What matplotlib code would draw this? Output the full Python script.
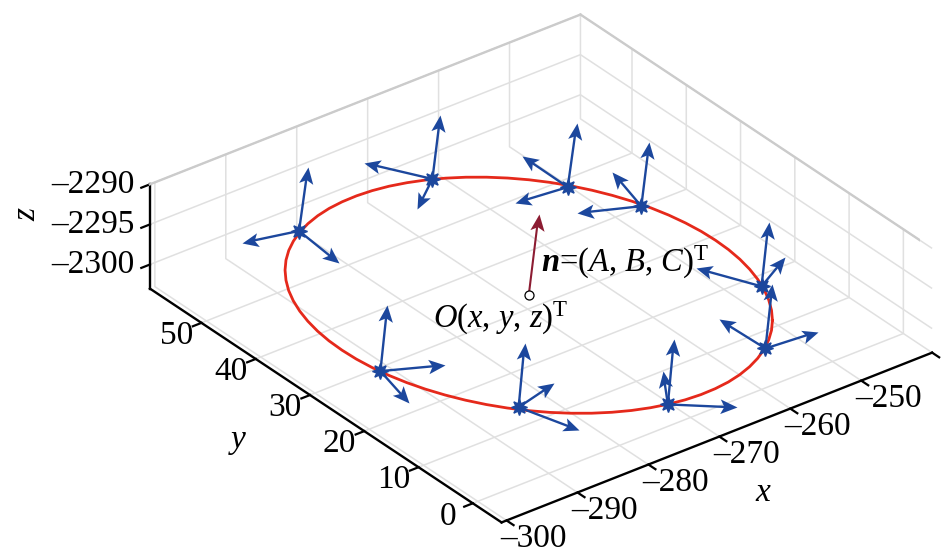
import matplotlib
matplotlib.use('Agg')
import matplotlib.pyplot as plt
from matplotlib.path import Path
from matplotlib.transforms import Affine2D
from mpl_toolkits.mplot3d import proj3d
import numpy as np

plt.rcParams['font.family'] = ['Liberation Serif', 'DejaVu Serif']
plt.rcParams['mathtext.fontset'] = 'custom'
plt.rcParams['mathtext.rm'] = 'Liberation Serif'
plt.rcParams['mathtext.it'] = 'Liberation Serif:italic'
plt.rcParams['mathtext.bf'] = 'Liberation Serif:italic:bold'

# axis ticks
x_ticks = [-300, -290, -280, -270, -260, -250, -240]
x_labels = ['–300', '–290', '–280', '–270', '–260', '–250', '']
y_ticks = [0, 10, 20, 30, 40, 50]
y_labels = ['0', '10', '20', '30', '40', '50']
z_ticks = [-2300, -2295, -2290]
z_labels = ['–2300', '–2295', '–2290']

# ring
ring_x = [-251.97, -250.70, -249.58, -248.61, -247.81, -247.18, -246.72, -246.44, -246.35, -246.43,
          -246.70, -247.14, -247.76, -248.55, -249.51, -250.62, -251.88, -253.28, -254.81, -256.46,
          -258.21, -260.05, -261.97, -263.95, -265.98, -268.04, -270.12, -272.20, -274.26, -276.30,
          -278.28, -280.21, -282.05, -283.81, -285.47, -287.00, -288.41, -289.68, -290.81, -291.77,
          -292.57, -293.20, -293.66, -293.94, -294.03, -293.95, -293.68, -293.24, -292.62, -291.83,
          -290.87, -289.76, -288.50, -287.10, -285.57, -283.92, -282.17, -280.33, -278.41, -276.43,
          -274.40, -272.34, -270.26, -268.18, -266.12, -264.08, -262.10, -260.17, -258.33, -256.57,
          -254.92, -253.38, -251.97]
ring_y = [8.48, 10.31, 12.29, 14.39, 16.62, 18.94, 21.34, 23.80, 26.31, 28.85,
          31.39, 33.91, 36.40, 38.84, 41.21, 43.49, 45.67, 47.72, 49.64, 51.40,
          52.99, 54.41, 55.64, 56.67, 57.49, 58.11, 58.50, 58.67, 58.62, 58.36,
          57.87, 57.16, 56.25, 55.13, 53.82, 52.33, 50.66, 48.83, 46.86, 44.75,
          42.52, 40.20, 37.80, 35.34, 32.83, 30.29, 27.76, 25.23, 22.74, 20.30,
          17.93, 15.65, 13.47, 11.42, 9.50, 7.74, 6.15, 4.73, 3.50, 2.47,
          1.65, 1.04, 0.64, 0.47, 0.52, 0.78, 1.27, 1.98, 2.89, 4.01,
          5.32, 6.81, 8.48]
ring_z = -2301

# measuring points on the ring
star_x = [-281.96, -263.24, -252.35, -248.38, -248.41, -256.33, -272.41, -286.00, -293.42]
star_y = [56.51, 56.40, 45.70, 37.33, 15.14, 4.07, 1.03, 10.77, 26.54]

# three arrow tips for each point
tip_x = [[-281.17, -288.57, -282.71], [-262.54, -267.17, -268.56], [-251.56, -252.26, -259.14],
         [-247.68, -246.40, -255.03], [-247.79, -242.43, -251.81], [-255.71, -256.60, -249.40],
         [-271.88, -268.45, -266.66], [-285.47, -279.63, -283.70], [-292.80, -286.90, -295.14]]
tip_y = [[55.89, 58.32, 48.21], [55.85, 63.90, 52.21], [45.08, 54.24, 46.54],
         [36.78, 45.23, 40.56], [14.66, 18.55, 22.79], [3.59, 12.33, 3.40],
         [0.62, 7.12, -4.28], [10.36, 12.49, 2.60], [26.06, 23.14, 18.99]]
tip_z = [[-2293, -2301, -2301], [-2293, -2301, -2301], [-2293, -2301, -2301],
         [-2293, -2301, -2301], [-2293, -2301, -2301], [-2293, -2301, -2301],
         [-2292.9, -2301, -2301], [-2293, -2301, -2301], [-2292.75, -2301, -2301]]

# centre and normal
center = [-270.19, 29.57, -2301]
normal_tip = [-269.31, 28.89, -2290.9]

blue = '#1C479D'
red = '#E5291B'
dark_red = '#8C1C32'
grid_col = '#E0E0E0'
font_size = 24

W = 778
fig = plt.figure(figsize=(9.47, 5.59), dpi=100)
ax = fig.add_axes([141.5 / 947, -109 / 559, W / 947, W / 559], projection='3d', proj_type='ortho')
ax.patch.set_alpha(0)
ax.set_xlim(-300.7, -240, view_margin=0)
ax.set_ylim(-5.3, 59.5, view_margin=0)
ax.set_zlim(-2303, -2290, view_margin=0)
ax.set_box_aspect((544, 577, 121.5))
ax.view_init(elev=30.8, azim=-127.6)

# ticks stay on the real axes, their labels are placed by hand below
ax.set_xticks(x_ticks, labels=[])
ax.set_yticks(y_ticks, labels=[])
ax.set_zticks(z_ticks, labels=[])

for axis in [ax.xaxis, ax.yaxis, ax.zaxis]:
    axis.set_pane_color((1, 1, 1, 0))
    axis.pane.set_edgecolor((1, 1, 1, 0))
    axis.line.set_color('black')
    axis.line.set_linewidth(1.7)
    axis._axinfo['grid'].update(color=grid_col, linewidth=1.1)
    axis._axinfo['tick'].update(inward_factor=0.25, outward_factor=0, linewidth={True: 1.6, False: 1})


def tick_text(x, y, z, s, ha):
    # project to the 2d plane of the axes, so the label keeps a true position
    px, py, _ = proj3d.proj_transform(x, y, z, ax.get_proj())
    ax.text2D(px, py, s, transform=ax.transData, fontsize=font_size, ha=ha, va='center')


for t, s in zip(x_ticks, x_labels):
    if s:
        tick_text(t, -10.3, -2303, s, 'center')
for t, s in zip(y_ticks, y_labels):
    tick_text(-304.2, t, -2303.4, s, 'center')
for t, s in zip(z_ticks, z_labels):
    tick_text(-302.8, 59.5, t + 0.7, s, 'right')

# darker top edge of the back walls
ax.plot([-300.7, -240], [59.5, 59.5], [-2290, -2290], color='#CBCBCB', lw=1.7)
ax.plot([-240, -240], [-5.3, 59.5], [-2290, -2290], color='#CBCBCB', lw=1.7)

ax.plot(ring_x, ring_y, ring_z, color=red, lw=2.0, solid_capstyle='round', zorder=3)


def draw_arrow(start, tip, color, lw=1.7, ms=25):
    # shaft stops inside the head so the point stays sharp
    proj = ax.get_proj()
    x0, y0, _ = proj3d.proj_transform(start[0], start[1], start[2], proj)
    x1, y1, _ = proj3d.proj_transform(tip[0], tip[1], tip[2], proj)
    angle = np.arctan2(y1 - y0, x1 - x0)
    head = Path([(0, 0), (-1, 0.43), (-0.77, 0), (-1, -0.43), (0, 0)], closed=True)
    head = head.transformed(Affine2D().rotate(angle))
    sx = start[0] + 0.85 * (tip[0] - start[0])
    sy = start[1] + 0.85 * (tip[1] - start[1])
    sz = start[2] + 0.85 * (tip[2] - start[2])
    ax.plot([start[0], sx], [start[1], sy], [start[2], sz], color=color, lw=lw, solid_capstyle='butt', zorder=4)
    ax.plot([tip[0]], [tip[1]], [tip[2]], marker=head, ms=ms, color=color, mec=color, mew=0, ls='none', zorder=5)


for i in range(len(star_x)):
    for j in range(3):
        draw_arrow((star_x[i], star_y[i], ring_z), (tip_x[i][j], tip_y[i][j], tip_z[i][j]), blue)
    ax.plot([star_x[i]], [star_y[i]], [ring_z], marker=(8, 1, 0), ms=11.5, color=blue, mec=blue, mew=1.0, ls='none', zorder=6)

draw_arrow(center, normal_tip, dark_red, lw=1.5)
ax.plot([center[0]], [center[1]], [center[2]], marker='o', ms=6.5, mfc='white', mec='black', mew=0.9, ls='none', zorder=6)

fig.text(433 / 947, 1 - 318 / 559, r'$\mathit{O}$($\mathit{x}$, $\mathit{y}$, $\mathit{z}$)$^{\mathrm{T}}$',
         fontsize=23.5, va='center', ha='left')
fig.text(541 / 947, 1 - 262 / 559, r'$\mathbf{n}$=($\mathit{A}$, $\mathit{B}$, $\mathit{C}$)$^{\mathrm{T}}$',
         fontsize=23.5, va='center', ha='left')
fig.text(763 / 947, 1 - 493 / 559, 'x', style='italic', fontsize=font_size, ha='center', va='center')
fig.text(238 / 947, 1 - 440 / 559, 'y', style='italic', fontsize=font_size, ha='center', va='center')
fig.text(27 / 947, 1 - 214 / 559, 'z', style='italic', fontsize=font_size, ha='center', va='center', rotation=90)

fig.savefig('out.png', dpi=100)
